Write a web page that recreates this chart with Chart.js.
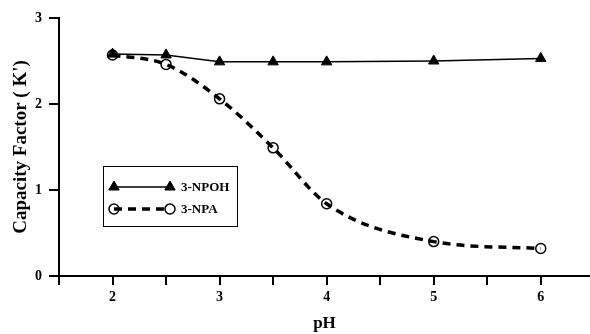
<!DOCTYPE html>
<html>
<head>
<meta charset="utf-8">
<script src="https://cdn.jsdelivr.net/npm/chart.js@4"></script>
<style>
  html, body { margin: 0; padding: 0; background: #fff; }
  #wrap { width: 590px; height: 334px; }
</style>
</head>
<body>
<div id="wrap"><canvas id="phChart" width="590" height="334"></canvas></div>
<script>
// values
var phValues = [2, 2.5, 3, 3.5, 4, 5, 6];
var npohValues = [2.58, 2.57, 2.49, 2.49, 2.49, 2.50, 2.53];
var npaValues = [2.57, 2.46, 2.06, 1.49, 0.84, 0.40, 0.32];
var xTickValues = [1.5, 2, 2.5, 3, 3.5, 4, 4.5, 5, 5.5, 6];
var yTickValues = [0, 1, 2, 3];

var serif = '"Liberation Serif", "Times New Roman", serif';

function toPoints(ys) {
    return phValues.map(function (x, i) { return { x: x, y: ys[i] }; });
}

// legend drawn by hand: line sample with a marker at both ends
var boxLegend = {
    id: 'boxLegend',
    afterDatasetsDraw: function (chart) {
        var ctx = chart.ctx;
        ctx.save();
        ctx.strokeStyle = '#000';
        ctx.lineWidth = 1;
        ctx.fillStyle = '#fff';
        ctx.fillRect(103.5, 166.5, 134, 60);
        ctx.strokeRect(103.5, 166.5, 134, 60);
        var rows = [187, 209];
        chart.data.datasets.forEach(function (ds, i) {
            var y = rows[i];
            ctx.beginPath();
            ctx.strokeStyle = '#000';
            ctx.lineWidth = ds.borderWidth;
            ctx.setLineDash(ds.borderDash || []);
            ctx.moveTo(114, y);
            ctx.lineTo(170, y);
            ctx.stroke();
            ctx.setLineDash([]);
            [114, 170].forEach(function (x) {
                ctx.fillStyle = ds.pointBackgroundColor;
                ctx.strokeStyle = '#000';
                ctx.lineWidth = ds.pointBorderWidth;
                Chart.helpers.drawPoint(ctx, {
                    pointStyle: ds.pointStyle,
                    radius: ds.pointRadius,
                    borderWidth: ds.pointBorderWidth
                }, x, y);
            });
            ctx.fillStyle = '#000';
            ctx.font = 'bold 13px ' + serif;
            ctx.textBaseline = 'middle';
            ctx.fillText(ds.label, 181, y + 1);
        });
        ctx.restore();
    }
};

new Chart(document.getElementById('phChart').getContext('2d'), {
    type: 'scatter',
    data: {
        datasets: [{
            label: '3-NPOH',
            data: toPoints(npohValues),
            showLine: true,
            borderColor: '#000',
            borderWidth: 1.5,
            pointStyle: 'triangle',
            pointRadius: 6,
            pointBackgroundColor: '#000',
            pointBorderColor: '#000',
            pointBorderWidth: 1
        }, {
            label: '3-NPA',
            data: toPoints(npaValues),
            showLine: true,
            borderColor: '#000',
            borderWidth: 3.5,
            borderDash: [8, 6],
            cubicInterpolationMode: 'monotone',
            tension: 0.4,
            pointStyle: 'circle',
            pointRadius: 5,
            pointBackgroundColor: 'rgba(255,255,255,0)',
            pointBorderColor: '#000',
            pointBorderWidth: 1.5
        }]
    },
    options: {
        responsive: false,
        animation: false,
        // the plot runs off the right edge of the picture
        layout: { autoPadding: false, padding: { top: 18, left: 0, right: 0, bottom: 0 } },
        plugins: { legend: { display: false }, tooltip: { enabled: false } },
        scales: {
            x: {
                type: 'linear',
                min: 1.5,
                max: 6.46,
                afterBuildTicks: function (s) {
                    s.ticks = xTickValues.map(function (v) { return { value: v }; });
                },
                afterFit: function (s) { s.height = 58; },
                grid: { drawOnChartArea: false, drawTicks: true, tickLength: 9, color: '#000', lineWidth: 2 },
                border: { color: '#000', width: 2 },
                ticks: {
                    color: '#000',
                    font: { family: serif, weight: 'bold', size: 14 },
                    padding: 4,
                    maxRotation: 0,
                    autoSkip: false,
                    callback: function (v) { return Number.isInteger(v) ? String(v) : ''; }
                },
                title: {
                    display: true,
                    text: 'pH',
                    color: '#000',
                    font: { family: serif, weight: 'bold', size: 17 },
                    padding: { top: 0, bottom: 0 }
                }
            },
            y: {
                min: 0,
                max: 3,
                afterBuildTicks: function (s) {
                    s.ticks = yTickValues.map(function (v) { return { value: v }; });
                },
                afterFit: function (s) { s.width = 59; },
                grid: { drawOnChartArea: false, drawTicks: true, tickLength: 10, color: '#000', lineWidth: 2 },
                border: { color: '#000', width: 2 },
                ticks: {
                    color: '#000',
                    font: { family: serif, weight: 'bold', size: 14 },
                    padding: 7
                },
                title: {
                    display: true,
                    text: "Capacity Factor ( K')",
                    color: '#000',
                    font: { family: serif, weight: 'bold', size: 19 },
                    padding: { top: 10, bottom: 0 }
                }
            }
        }
    },
    plugins: [boxLegend]
});
</script>
</body>
</html>
